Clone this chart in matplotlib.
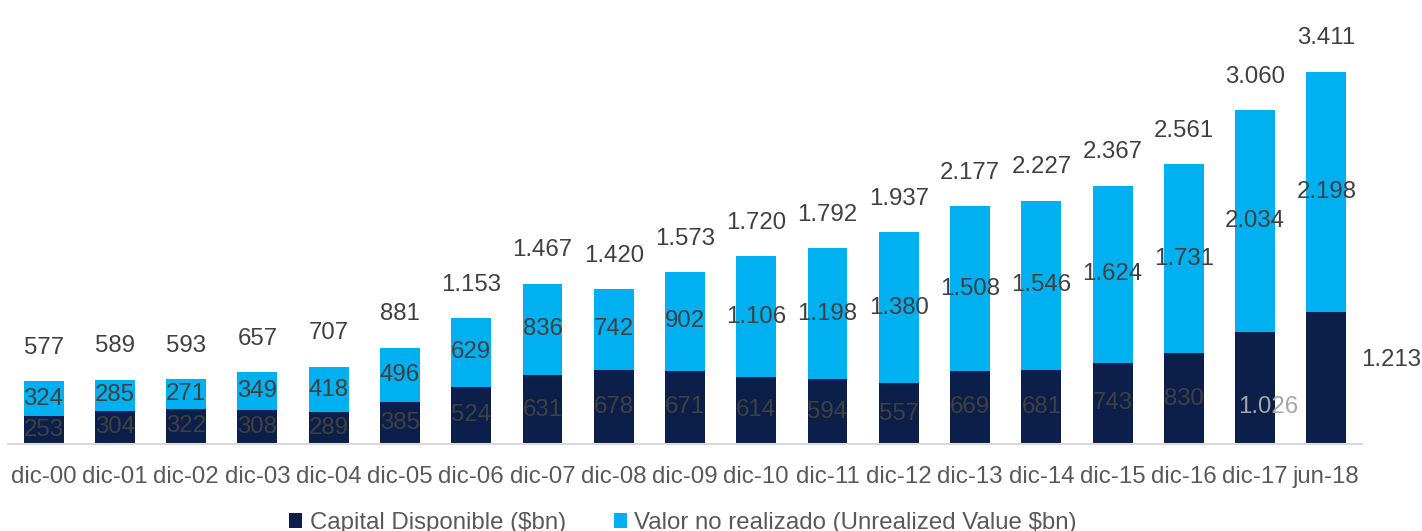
import matplotlib
matplotlib.use("Agg")
import matplotlib.pyplot as plt
from matplotlib.patches import Patch
import numpy as np

categories = ["dic-00", "dic-01", "dic-02", "dic-03", "dic-04", "dic-05", "dic-06",
              "dic-07", "dic-08", "dic-09", "dic-10", "dic-11", "dic-12", "dic-13",
              "dic-14", "dic-15", "dic-16", "dic-17", "jun-18"]
capital = [253, 304, 322, 308, 289, 385, 524, 631, 678, 671, 614, 594, 557, 669,
           681, 743, 830, 1026, 1213]
unrealized = [324, 285, 271, 349, 418, 496, 629, 836, 742, 902, 1106, 1198, 1380,
              1508, 1546, 1624, 1731, 2034, 2198]
totals = [577, 589, 593, 657, 707, 881, 1153, 1467, 1420, 1573, 1720, 1792, 1937,
          2177, 2227, 2367, 2561, 3060, 3411]
series_names = ["Capital Disponible ($bn)", "Valor no realizado (Unrealized Value $bn)"]

def fmt(v):
    return f"{v:,}".replace(",", ".")

plt.rcParams['font.family'] = ['Liberation Sans', 'DejaVu Sans']
DARK = "#0C1F4B"
LIGHT = "#00B0F0"
TXT = "#404040"

fig = plt.figure(figsize=(14.22, 5.31), dpi=100)
ax = fig.add_axes([8/1422, 87/531, 1354/1422, 444/531])
x = np.arange(len(categories))
w = 0.56
ax.bar(x, capital, w, color=DARK, zorder=2)
ax.bar(x, unrealized, w, bottom=capital, color=LIGHT, zorder=2)

ax.set_xlim(-0.5, len(categories) - 0.5)
ax.set_ylim(0, 4066)
for s in ["top", "right", "left"]:
    ax.spines[s].set_visible(False)
ax.spines["bottom"].set_color("#D9D9D9")
ax.spines["bottom"].set_linewidth(1.5)
ax.set_yticks([])
ax.set_xticks(x)
fs = 17.3
ax.set_xticklabels(categories, fontsize=fs, color="#595959")
ax.tick_params(axis="x", length=0, pad=16)

n = len(categories)
for i in range(n):
    c, u, t = capital[i], unrealized[i], totals[i]
    ax.text(x[i], c + u / 2, fmt(u), ha="center", va="center", fontsize=fs, color=TXT, zorder=3)
    if i == n - 1:
        ax.text(x[i] + 0.91, 769, fmt(c), ha="center", va="center", fontsize=fs,
                color=TXT, clip_on=False, zorder=3)
    elif i == n - 2:
        ax.text(x[i] + 0.18, c / 2 - 170, fmt(c), ha="center", va="center", fontsize=fs,
                color="#A6A6A6", zorder=3)
    else:
        ax.text(x[i], c / 2, fmt(c), ha="center", va="center", fontsize=fs, color=TXT, zorder=3)
    ax.annotate(fmt(t), (x[i], t), xytext=(0, 24), textcoords="offset points",
                ha="center", va="center", fontsize=fs, color=TXT)

handles = [Patch(facecolor=DARK, edgecolor="none"), Patch(facecolor=LIGHT, edgecolor="none")]
fig.legend(handles, series_names, loc="center", bbox_to_anchor=(683/1422, 1 - 523/531),
           ncol=2, frameon=False, fontsize=17.3, labelcolor="#595959",
           handlelength=0.55, handleheight=0.55, handletextpad=0.3, columnspacing=2.0)

fig.savefig("out.png", dpi=100)
